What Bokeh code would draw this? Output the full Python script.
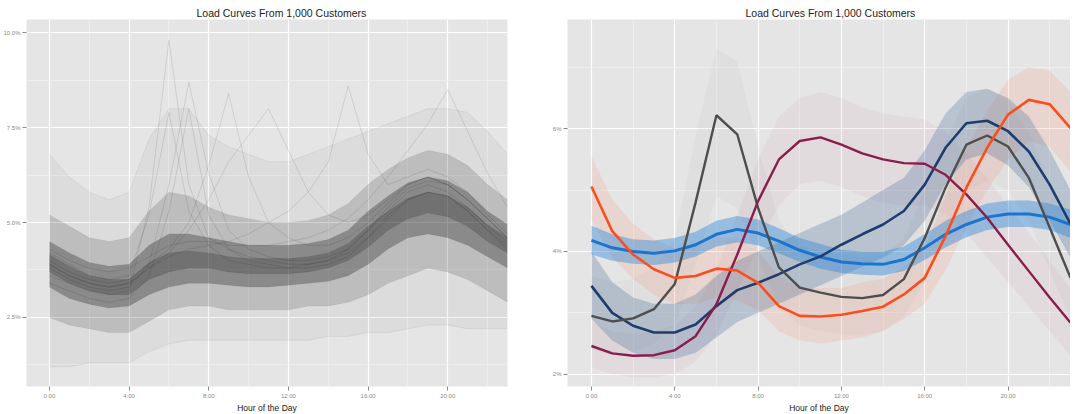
from bokeh.plotting import figure
from bokeh.models import FixedTicker, Range1d, CustomJSTickFormatter
from bokeh.layouts import row
from bokeh.embed import file_html
from bokeh.resources import INLINE

# ---------------- data ----------------
hours = list(range(24))
x_tick_values = [0, 4, 8, 12, 16, 20]
x_minor_values = [2, 6, 10, 14, 18, 22]
x_tick_labels = ["0:00", "4:00", "8:00", "12:00", "16:00", "20:00"]
left_y_ticks = [2.5, 5.0, 7.5, 10.0]
left_y_minor = [1.25, 3.75, 6.25, 8.75]
left_y_labels = ["2.5%", "5.0%", "7.5%", "10.0%"]
right_y_ticks = [2, 4, 6]
right_y_minor = [3, 5, 7]
right_y_labels = ["2%", "4%", "6%"]
title_text = "Load Curves From 1,000 Customers"
x_label = "Hour of the Day"

# left panel: distribution of 1,000 customer curves (share of daily load, %)
all_min = [1.2, 1.2, 1.3, 1.3, 1.3, 1.6, 1.8, 1.9, 1.9, 1.9, 1.9, 1.9, 1.9, 1.9, 2.0, 2.0, 2.1, 2.1, 2.2, 2.3, 2.3, 2.2, 2.2, 2.2]
all_q10 = [2.5, 2.3, 2.2, 2.1, 2.1, 2.4, 2.7, 2.8, 2.8, 2.7, 2.7, 2.7, 2.7, 2.8, 2.8, 2.9, 3.1, 3.4, 3.6, 3.8, 3.7, 3.5, 3.2, 2.9]
all_q25 = [3.3, 3.0, 2.85, 2.75, 2.8, 3.1, 3.3, 3.4, 3.4, 3.35, 3.3, 3.3, 3.35, 3.4, 3.45, 3.6, 3.9, 4.3, 4.6, 4.7, 4.6, 4.4, 4.1, 3.8]
all_q40 = [3.7, 3.4, 3.2, 3.1, 3.1, 3.5, 3.7, 3.8, 3.8, 3.7, 3.65, 3.65, 3.65, 3.7, 3.8, 4.0, 4.35, 4.8, 5.1, 5.25, 5.15, 4.9, 4.5, 4.2]
all_q60 = [4.15, 3.85, 3.6, 3.5, 3.5, 3.95, 4.2, 4.25, 4.2, 4.1, 4.05, 4.05, 4.05, 4.1, 4.2, 4.45, 4.9, 5.3, 5.65, 5.8, 5.7, 5.4, 4.95, 4.6]
all_q75 = [4.5, 4.2, 3.95, 3.85, 3.9, 4.4, 4.7, 4.7, 4.6, 4.5, 4.4, 4.4, 4.4, 4.45, 4.55, 4.8, 5.3, 5.7, 6.05, 6.2, 6.1, 5.8, 5.3, 4.95]
all_q90 = [5.2, 4.9, 4.6, 4.5, 4.6, 5.3, 5.8, 5.7, 5.4, 5.2, 5.1, 5.0, 5.0, 5.05, 5.2, 5.5, 6.0, 6.4, 6.7, 6.9, 6.8, 6.5, 6.0, 5.6]
all_max = [6.8, 6.2, 5.8, 5.6, 5.8, 7.2, 8.0, 8.0, 7.3, 7.0, 6.8, 6.6, 6.6, 6.8, 7.0, 7.2, 7.4, 7.6, 7.8, 8.0, 8.0, 7.9, 7.4, 6.8]

outlier_a = [3.6, 3.4, 3.2, 3.1, 3.2, 5.4, 9.8, 6.0, 4.6, 4.3, 4.1, 4.0, 3.9, 3.9, 4.0, 4.2, 4.6, 5.2, 5.6, 5.8, 5.7, 5.3, 4.8, 4.4]
outlier_b = [4.2, 3.9, 3.6, 3.5, 3.6, 5.2, 7.9, 5.3, 4.4, 4.0, 3.9, 3.8, 3.8, 3.9, 4.0, 4.3, 4.8, 5.3, 5.8, 6.0, 5.8, 5.4, 4.9, 4.5]
outlier_c = [3.4, 3.2, 3.0, 2.9, 3.0, 3.6, 5.3, 8.0, 5.2, 4.3, 4.0, 3.9, 3.8, 3.8, 3.9, 4.1, 4.6, 5.1, 5.6, 5.8, 5.7, 5.3, 4.8, 4.3]
outlier_d = [3.8, 3.5, 3.3, 3.2, 3.3, 3.9, 6.0, 8.7, 6.3, 4.8, 4.3, 4.1, 4.0, 4.0, 4.1, 4.3, 4.8, 5.4, 5.9, 6.1, 6.0, 5.6, 5.1, 4.6]
outlier_e = [4.0, 3.7, 3.5, 3.4, 3.5, 3.9, 4.3, 5.0, 6.5, 8.4, 6.2, 5.0, 4.6, 4.4, 4.4, 4.6, 5.0, 5.5, 6.0, 6.2, 6.0, 5.6, 5.1, 4.6]
outlier_f = [3.9, 3.6, 3.4, 3.3, 3.4, 3.8, 4.1, 4.3, 4.4, 4.5, 4.7, 5.0, 5.3, 5.8, 6.6, 8.6, 6.8, 6.0, 6.2, 6.4, 6.2, 5.8, 5.2, 4.7]
outlier_g = [4.3, 4.0, 3.8, 3.7, 3.8, 4.1, 4.4, 4.5, 4.5, 4.4, 4.4, 4.4, 4.5, 4.6, 4.8, 5.1, 5.6, 6.2, 6.9, 7.6, 8.5, 7.4, 6.3, 5.4]
outlier_h = [3.9, 3.6, 3.4, 3.3, 3.4, 3.8, 4.2, 4.8, 5.6, 6.6, 7.3, 8.0, 6.9, 5.8, 5.2, 5.0, 5.2, 5.6, 6.0, 6.2, 6.0, 5.6, 5.1, 4.6]
outliers = [outlier_a, outlier_b, outlier_c, outlier_d, outlier_e, outlier_f, outlier_g, outlier_h]

# right panel: five clusters (mean, lower and upper edge of member curves)
orange_mean = [5.06, 4.33, 3.95, 3.71, 3.57, 3.60, 3.72, 3.69, 3.49, 3.11, 2.95, 2.94, 2.97, 3.03, 3.10, 3.30, 3.57, 4.25, 5.04, 5.69, 6.23, 6.47, 6.40, 6.01]
orange_low = [4.5, 3.9, 3.55, 3.3, 3.15, 3.15, 3.25, 3.2, 3.05, 2.7, 2.55, 2.5, 2.55, 2.6, 2.7, 2.9, 3.15, 3.7, 4.4, 5.0, 5.5, 5.8, 5.7, 5.3]
orange_high = [5.55, 4.85, 4.45, 4.2, 4.05, 4.1, 4.25, 4.2, 4.0, 3.6, 3.4, 3.4, 3.4, 3.5, 3.55, 3.75, 4.05, 4.9, 5.7, 6.3, 6.8, 7.0, 6.95, 6.6]

navy_mean = [3.44, 3.00, 2.79, 2.68, 2.68, 2.81, 3.11, 3.37, 3.49, 3.63, 3.79, 3.92, 4.11, 4.28, 4.44, 4.66, 5.09, 5.69, 6.09, 6.13, 5.96, 5.63, 5.09, 4.45]
navy_low = [2.9, 2.55, 2.35, 2.25, 2.25, 2.35, 2.6, 2.85, 3.0, 3.15, 3.3, 3.45, 3.6, 3.75, 3.9, 4.1, 4.5, 5.1, 5.5, 5.6, 5.4, 5.05, 4.5, 3.9]
navy_high = [4.0, 3.5, 3.25, 3.15, 3.15, 3.3, 3.6, 3.85, 4.0, 4.15, 4.3, 4.45, 4.6, 4.8, 5.0, 5.2, 5.65, 6.25, 6.6, 6.65, 6.5, 6.2, 5.65, 5.0]

grey_mean = [2.95, 2.86, 2.91, 3.06, 3.47, 4.80, 6.22, 5.91, 4.71, 3.74, 3.41, 3.33, 3.26, 3.24, 3.29, 3.55, 4.22, 5.04, 5.74, 5.89, 5.71, 5.20, 4.39, 3.57]
grey_low = [2.4, 2.3, 2.35, 2.5, 2.8, 3.8, 4.9, 4.7, 3.9, 3.1, 2.8, 2.7, 2.65, 2.65, 2.7, 2.95, 3.5, 4.3, 5.0, 5.15, 5.0, 4.5, 3.7, 2.9]
grey_high = [3.6, 3.5, 3.55, 3.75, 4.2, 5.9, 7.3, 7.1, 5.7, 4.5, 4.1, 4.0, 3.95, 3.9, 3.95, 4.2, 5.0, 5.8, 6.5, 6.65, 6.45, 5.95, 5.1, 4.3]

maroon_mean = [2.46, 2.34, 2.30, 2.31, 2.39, 2.62, 3.14, 3.95, 4.82, 5.50, 5.80, 5.86, 5.74, 5.60, 5.50, 5.44, 5.43, 5.25, 4.93, 4.55, 4.11, 3.68, 3.25, 2.84]
maroon_low = [2.1, 2.0, 1.95, 1.95, 2.0, 2.2, 2.65, 3.35, 4.1, 4.75, 5.1, 5.15, 5.05, 4.9, 4.8, 4.75, 4.75, 4.6, 4.3, 3.9, 3.5, 3.1, 2.7, 2.3]
maroon_high = [2.85, 2.7, 2.65, 2.7, 2.8, 3.1, 3.7, 4.6, 5.5, 6.2, 6.5, 6.6, 6.5, 6.35, 6.25, 6.2, 6.15, 5.95, 5.6, 5.2, 4.75, 4.3, 3.85, 3.4]

blue_mean = [4.18, 4.06, 4.00, 3.97, 4.01, 4.11, 4.28, 4.36, 4.30, 4.17, 4.02, 3.91, 3.83, 3.80, 3.79, 3.87, 4.06, 4.28, 4.44, 4.56, 4.61, 4.61, 4.56, 4.44]
blue_low = [3.95, 3.85, 3.8, 3.78, 3.82, 3.92, 4.08, 4.15, 4.1, 3.97, 3.83, 3.72, 3.65, 3.62, 3.61, 3.68, 3.86, 4.07, 4.23, 4.35, 4.4, 4.4, 4.35, 4.22]
blue_high = [4.42, 4.28, 4.2, 4.18, 4.22, 4.32, 4.5, 4.58, 4.52, 4.38, 4.22, 4.12, 4.03, 4.0, 4.0, 4.08, 4.28, 4.5, 4.66, 4.78, 4.83, 4.83, 4.78, 4.68]

FONT = "Liberation Sans"


def fmt(tvals, tlabels):
    return CustomJSTickFormatter(args=dict(tvals=tvals, tlabels=tlabels), code="""
        for (let i = 0; i < tvals.length; i++) {
            if (Math.abs(tvals[i] - tick) < 1e-6) { return tlabels[i]; }
        }
        return "";
    """)


def make_fig(xr, yr, yt, ym, yl, fw, bl, br, offset):
    p = figure(output_backend="svg", toolbar_location=None,
               frame_width=fw, frame_height=367,
               min_border_left=bl, min_border_right=br,
               min_border_top=19, min_border_bottom=24,
               x_range=Range1d(*xr), y_range=Range1d(*yr))
    p.background_fill_color = "#E5E5E5"
    p.border_fill_color = "white"
    p.outline_line_color = None
    xt = FixedTicker(ticks=x_tick_values, minor_ticks=x_minor_values)
    ytk = FixedTicker(ticks=yt, minor_ticks=ym)
    p.xaxis.ticker = xt
    p.yaxis.ticker = ytk
    p.xgrid.ticker = xt
    p.ygrid.ticker = ytk
    p.xaxis.formatter = fmt(x_tick_values, x_tick_labels)
    p.yaxis.formatter = fmt(yt, yl)
    for g in (p.xgrid, p.ygrid):
        g.grid_line_color = "white"
        g.grid_line_width = 1.2
        g.minor_grid_line_color = "#F0F0F0"
        g.minor_grid_line_width = 0.8
    for ax in (p.xaxis, p.yaxis):
        ax.axis_line_color = None
        ax.major_tick_line_color = "#8A8A8A"
        ax.major_tick_in = 0
        ax.major_tick_out = 4
        ax.minor_tick_line_color = None
        ax.major_label_text_font = FONT
        ax.major_label_text_font_size = "6px"
        ax.major_label_text_color = "#8A8A8A"
        ax.major_label_standoff = 2
    p.xaxis.axis_label = x_label
    p.xaxis.axis_label_text_font = FONT
    p.xaxis.axis_label_text_font_size = "8.5px"
    p.xaxis.axis_label_text_font_style = "normal"
    p.xaxis.axis_label_text_color = "#222222"
    p.xaxis.axis_label_standoff = 1
    p.title.text = title_text
    p.title.align = "left"
    p.title.offset = offset
    p.title.text_font = FONT
    p.title.text_font_size = "10.5px"
    p.title.text_font_style = "normal"
    p.title.text_color = "#222222"
    p.title.standoff = 2
    return p


# ---------------- left panel ----------------
left = make_fig((-1.15, 23.0), (0.68, 10.35), left_y_ticks, left_y_minor, left_y_labels,
                481, 26, 31, 170)
left.varea(x=hours, y1=all_min, y2=all_max, fill_color="black", fill_alpha=0.035)
left.varea(x=hours, y1=all_q10, y2=all_q90, fill_color="black", fill_alpha=0.14)
left.varea(x=hours, y1=all_q25, y2=all_q75, fill_color="black", fill_alpha=0.27)
left.varea(x=hours, y1=all_q40, y2=all_q60, fill_color="black", fill_alpha=0.18)
for q in (all_min, all_q10, all_q25, all_q40, all_q60, all_q75, all_q90, all_max):
    left.line(hours, q, line_color="black", line_alpha=0.08, line_width=0.8)
for o in outliers:
    left.line(hours, o, line_color="black", line_alpha=0.1, line_width=1)

# ---------------- right panel ----------------
right = make_fig((-1.15, 23.0), (1.8, 7.78), right_y_ticks, right_y_minor, right_y_labels,
                 503, 29, 0, 178)
right.varea(x=hours, y1=grey_low, y2=grey_high, fill_color="#6E6E6E", fill_alpha=0.05)
right.varea(x=hours, y1=maroon_low, y2=maroon_high, fill_color="#B24A70", fill_alpha=0.06)
right.varea(x=hours, y1=orange_low, y2=orange_high, fill_color="#FF7A50", fill_alpha=0.14)
right.varea(x=hours, y1=navy_low, y2=navy_high, fill_color="#29568A", fill_alpha=0.24)
right.varea(x=hours, y1=blue_low, y2=blue_high, fill_color="#2C86DA", fill_alpha=0.42)

right.line(hours, blue_mean, line_color="#1C74CC", line_width=3)
right.line(hours, navy_mean, line_color="#1F3C6E", line_width=2.6)
right.line(hours, grey_mean, line_color="#4E4E4E", line_width=2.4)
right.line(hours, maroon_mean, line_color="#8A1D4B", line_width=2.4)
right.line(hours, orange_mean, line_color="#FB4E1C", line_width=2.6)

layout = row(left, right)
open("out.html", "w").write(file_html(layout, INLINE))
